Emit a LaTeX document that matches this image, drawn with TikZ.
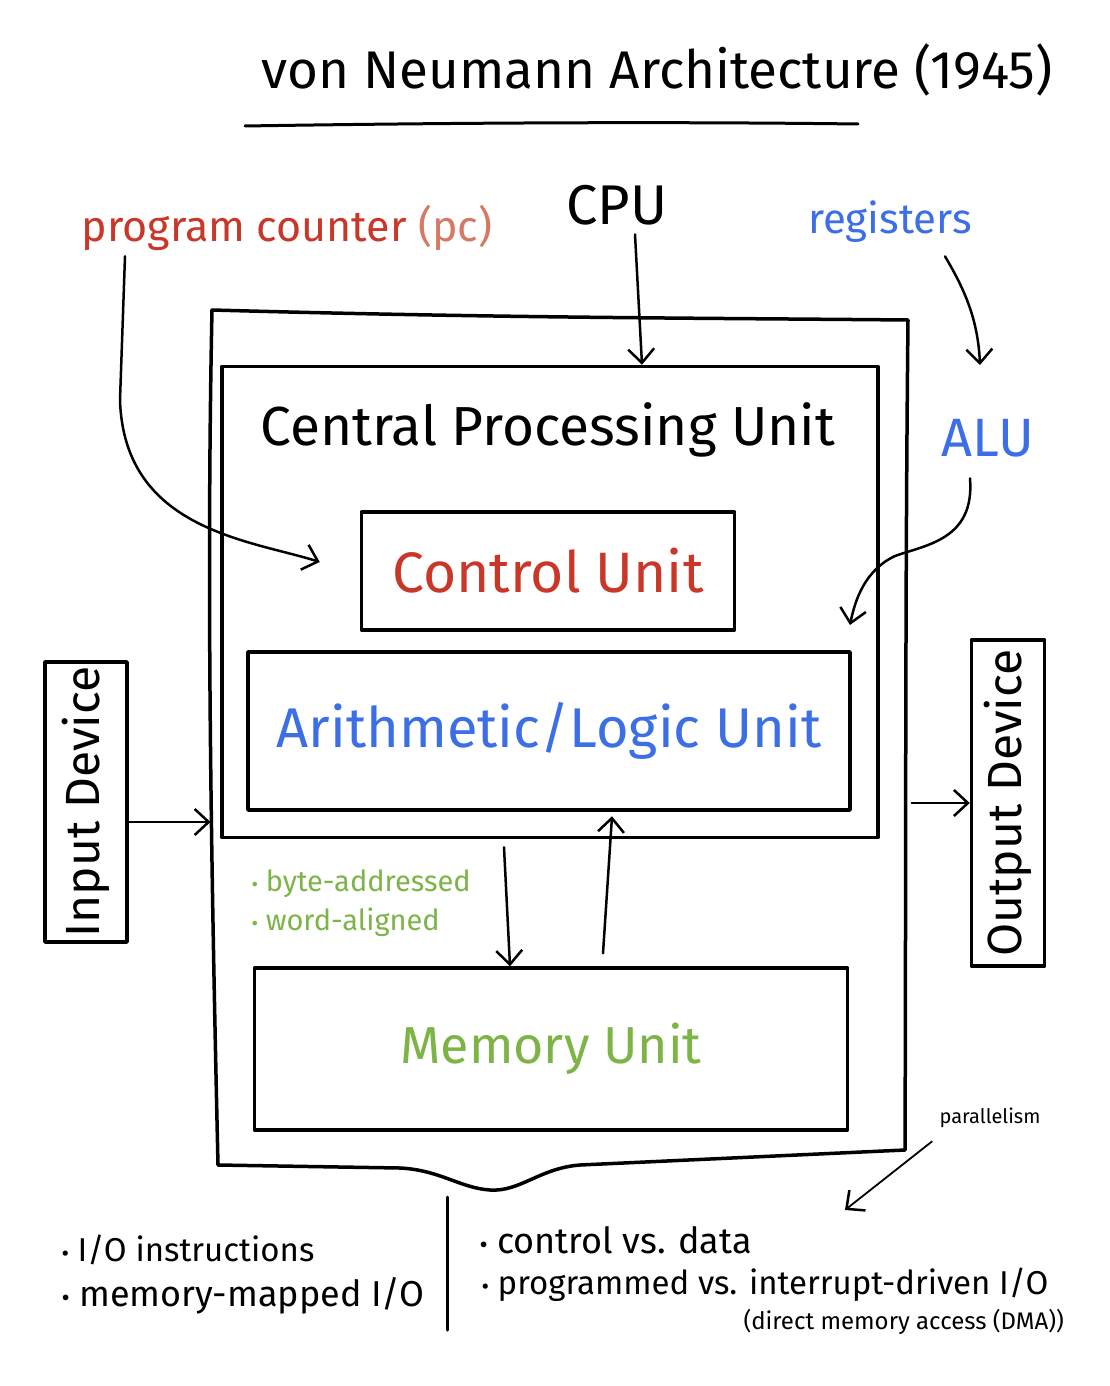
\documentclass[tikz,border=0pt]{standalone}
\usepackage{fontspec}
\setmainfont{Fira Sans}
\usetikzlibrary{arrows.meta,calc}
\definecolor{hred}{RGB}{200,55,40}
\definecolor{hpink}{RGB}{215,120,100}
\definecolor{hblue}{RGB}{60,110,230}
\definecolor{hgreen}{RGB}{125,180,70}
\newcommand{\fs}[1]{\fontsize{#1}{#1}\selectfont}
\newcommand{\bul}{\scalebox{0.7}{\textbullet}\ }
\begin{document}
\begin{tikzpicture}[x=1pt,y=-1pt,
  line width=3pt, line cap=round, line join=round,
  box/.style={draw, line width=3.5pt, inner sep=0pt},
  arr/.style={line width=2.5pt, -{Straight Barb[length=14pt,width=26pt,line width=2.5pt]}},
  thin arr/.style={line width=1.8pt, -{Straight Barb[length=14pt,width=26pt,line width=2.5pt]}},
  lbl/.style={inner sep=0pt, anchor=center}]
\useasboundingbox (0,0) rectangle (1109,1386);
\fill[white] (0,0) rectangle (1109,1386);

% title
\node[lbl, font=\fs{53}] (title) at (657,70) {von Neumann Architecture (1945)};
\draw[line width=3pt] (245,126) .. controls (500,122) and (700,122) .. (858,124);

% labels on top
\node[lbl, text=hred, font=\fs{43}] (pc) at (287,228) {program counter \textcolor{hpink}{(pc)}};
\node[lbl, font=\fs{56}] (cpulbl) at (617,205) {CPU};
\node[lbl, text=hblue, font=\fs{42}] (regs) at (890,222) {registers};
\node[lbl, text=hblue, font=\fs{54}] (alulbl) at (988,438) {ALU};

% outer box
\node[draw=none, minimum width=696pt, minimum height=855pt, inner sep=0pt] (outer) at (560,740) {};
\draw[line width=3.5pt] (212,310) .. controls (500,318) and (700,318) .. (908,320)
  .. controls (905,600) and (906,900) .. (905,1150)
  -- (580,1165) .. controls (540,1168) and (520,1192) .. (490,1190)
  .. controls (460,1188) and (440,1170) .. (400,1168)
  -- (218,1165) .. controls (212,900) and (206,600) .. (212,310) -- cycle;

% CPU box
\node[box, minimum width=656pt, minimum height=471pt] (cpu) at (550,602) {};
\node[lbl, font=\fs{55}] (cpuname) at (548,430) {Central Processing Unit};

% control unit
\node[box, minimum width=373pt, minimum height=118pt, text=hred, font=\fs{57}] (ctrl) at (548,571) {Control Unit};
% ALU box
\node[box, minimum width=602pt, minimum height=158pt, text=hblue, font=\fs{56}] (alu) at (549,731) {Arithmetic/Logic Unit};
% memory box
\node[box, minimum width=593pt, minimum height=162pt, text=hgreen, font=\fs{52}] (mem) at (551,1049) {Memory Unit};

% green notes
\node[lbl, anchor=west, text=hgreen, align=left, font=\fs{29}] (notes) at (250,903) {\bul byte-addressed\\[10pt]\bul word-aligned};

% input / output devices
\node[box, minimum width=82pt, minimum height=280pt] (inp) at (86,802) {};
\node[lbl, rotate=90, font=\fs{48}] (inptxt) at (inp.center) {Input Device};
\node[box, minimum width=73pt, minimum height=326pt] (outp) at (1008,803) {};
\node[lbl, rotate=90, font=\fs{48}] (outtxt) at (outp.center) {Output Device};

% arrows
\coordinate (pctip) at ($(ctrl.west |- 0,562)+(-40,0)$);
\draw[arr] (cpulbl.south) ++(18,8) -- ([xshift=92pt]cpu.north);
\draw[arr] (regs.south) ++(55,12) .. controls (965,290) and (978,320) .. (980,365);
\draw[arr] (alulbl.south) ++(-18,20) .. controls (975,540) and (925,545) .. (895,556)
   .. controls (865,570) and (855,600) .. (850,625);
\draw[arr] ([xshift=-162pt,yshift=-4pt]pc.south) -- (120,400)
   .. controls (124,530) and (250,540) .. (pctip);
\draw[arr] ([xshift=-46pt,yshift=-8pt]cpu.south) -- ([xshift=-41pt]mem.north);
\draw[arr] ([xshift=52pt,yshift=13pt]mem.north) -- ([xshift=62pt,yshift=23pt]cpu.south);
\draw[arr] ([yshift=-20pt]inp.east) -- ([yshift=-20pt]inp.east -| outer.west);
\draw[arr] ([yshift=0pt]outp.west -| cpu.east) ++(32,0) -- (outp.west);

% bottom notes
\draw[line width=3pt] (447,1197) -- (447,1330);
\node[lbl, anchor=west, font=\fs{33}] (io1) at (60,1250) {\bul I/O instructions};
\node[lbl, anchor=west, font=\fs{36}] (io2) at (60,1296) {\bul memory-mapped I/O};
\node[lbl, anchor=west, font=\fs{36}] (cv) at (478,1240) {\bul control vs. data};
\node[lbl, anchor=west, font=\fs{33}] (pv) at (480,1285) {\bul programmed vs. interrupt-driven I/O};
\node[lbl, anchor=west, font=\fs{24}] (dma) at (742,1322) {(direct memory access (DMA))};
\node[lbl, font=\fs{20}] (par) at (990,1118) {parallelism};
\draw[thin arr] ([xshift=-58pt,yshift=-12pt]par.south) -- (845,1210);
\end{tikzpicture}
\end{document}
